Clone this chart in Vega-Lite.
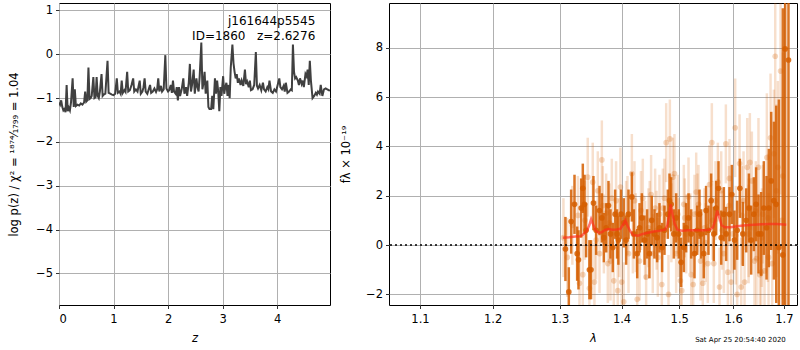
{
"$schema": "https://vega.github.io/schema/vega-lite/v6.json",
"padding": {"left": 8, "top": 2, "right": 0, "bottom": 0},
"autosize": {"type": "pad"},
"spacing": 9,
"config": {
  "font": "DejaVu Sans",
  "view": {"stroke": "#000", "strokeWidth": 1},
  "axis": {"grid": true, "gridColor": "#b0b0b0", "gridWidth": 1, "domain": false, "tickColor": "#000", "tickSize": 3.5, "tickWidth": 0.8, "labelColor": "#000", "labelFontSize": 11.5, "labelPadding": 3, "titleColor": "#000", "titleFontSize": 11.5, "titleFontWeight": "normal", "labelFont": "DejaVu Sans", "titleFont": "DejaVu Sans"},
  "axisX": {"labelPadding": 5}
},
"datasets": {
"pz": [
{"z":0.00,"p":-1.10},{"z":0.02,"p":-1.15},{"z":0.04,"p":-1.05},{"z":0.06,"p":-1.20},{"z":0.08,"p":-1.28},{"z":0.10,"p":-1.25},{"z":0.12,"p":-1.32},{"z":0.14,"p":-0.70},{"z":0.16,"p":-1.30},{"z":0.18,"p":-1.22},{"z":0.20,"p":-1.28},{"z":0.22,"p":-1.10},{"z":0.25,"p":-0.55},{"z":0.27,"p":-1.20},{"z":0.29,"p":-0.80},{"z":0.31,"p":-1.18},{"z":0.34,"p":-1.15},{"z":0.37,"p":-1.17},{"z":0.40,"p":-1.12},{"z":0.43,"p":-1.15},{"z":0.46,"p":-1.10},{"z":0.48,"p":-0.85},{"z":0.50,"p":-1.08},{"z":0.52,"p":-1.05},{"z":0.54,"p":-0.30},{"z":0.56,"p":-1.02},{"z":0.58,"p":-1.00},{"z":0.60,"p":-0.95},{"z":0.63,"p":-0.52},{"z":0.65,"p":-1.00},{"z":0.67,"p":-0.98},{"z":0.69,"p":-0.52},{"z":0.71,"p":-0.95},{"z":0.73,"p":-1.00},{"z":0.75,"p":-0.85},{"z":0.78,"p":-0.45},{"z":0.80,"p":-0.95},{"z":0.82,"p":-0.92},{"z":0.85,"p":-0.90},{"z":0.89,"p":-0.15},{"z":0.91,"p":-0.88},{"z":0.94,"p":-0.90},{"z":0.97,"p":-0.92},{"z":1.00,"p":-0.93},{"z":1.03,"p":-0.90},{"z":1.06,"p":-0.55},{"z":1.08,"p":-0.88},{"z":1.11,"p":-0.85},{"z":1.13,"p":-0.90},{"z":1.15,"p":-0.60},{"z":1.17,"p":-0.88},{"z":1.20,"p":-0.82},{"z":1.22,"p":-0.86},{"z":1.25,"p":-0.40},{"z":1.27,"p":-0.85},{"z":1.30,"p":-0.82},{"z":1.33,"p":-0.70},{"z":1.36,"p":-0.55},{"z":1.38,"p":-0.85},{"z":1.41,"p":-0.80},{"z":1.44,"p":-0.85},{"z":1.46,"p":-0.72},{"z":1.48,"p":-0.60},{"z":1.50,"p":-0.90},{"z":1.53,"p":-0.85},{"z":1.55,"p":-0.75},{"z":1.57,"p":-0.55},{"z":1.59,"p":-0.85},{"z":1.62,"p":-0.90},{"z":1.64,"p":-0.82},{"z":1.67,"p":-0.70},{"z":1.69,"p":-0.88},{"z":1.72,"p":-0.85},{"z":1.75,"p":-0.78},{"z":1.78,"p":-0.86},{"z":1.80,"p":-0.80},{"z":1.82,"p":-0.55},{"z":1.84,"p":-0.85},{"z":1.87,"p":-0.72},{"z":1.89,"p":-0.85},{"z":1.92,"p":-0.80},{"z":1.95,"p":-0.02},{"z":1.97,"p":-0.78},{"z":2.00,"p":-0.85},{"z":2.02,"p":-0.82},{"z":2.05,"p":-0.70},{"z":2.07,"p":-0.88},{"z":2.09,"p":-0.60},{"z":2.11,"p":-0.85},{"z":2.14,"p":-0.90},{"z":2.16,"p":-0.75},{"z":2.18,"p":-1.05},{"z":2.20,"p":-0.75},{"z":2.22,"p":-0.95},{"z":2.25,"p":-0.80},{"z":2.28,"p":-0.55},{"z":2.30,"p":-0.90},{"z":2.33,"p":-0.75},{"z":2.35,"p":-0.95},{"z":2.38,"p":-0.65},{"z":2.40,"p":-0.22},{"z":2.42,"p":-0.85},{"z":2.44,"p":-0.70},{"z":2.47,"p":-0.35},{"z":2.49,"p":-0.90},{"z":2.52,"p":-0.55},{"z":2.54,"p":-0.75},{"z":2.56,"p":-0.85},{"z":2.58,"p":-0.50},{"z":2.61,"p":0.27},{"z":2.63,"p":-0.80},{"z":2.65,"p":-0.65},{"z":2.67,"p":-0.40},{"z":2.69,"p":-0.90},{"z":2.72,"p":-0.60},{"z":2.74,"p":-1.20},{"z":2.76,"p":-1.25},{"z":2.79,"p":-1.25},{"z":2.81,"p":-0.95},{"z":2.83,"p":-1.25},{"z":2.86,"p":-0.55},{"z":2.88,"p":-0.90},{"z":2.90,"p":-0.60},{"z":2.92,"p":-0.85},{"z":2.94,"p":-1.30},{"z":2.96,"p":-0.75},{"z":2.98,"p":-0.95},{"z":3.01,"p":-0.50},{"z":3.03,"p":-0.90},{"z":3.05,"p":-0.75},{"z":3.07,"p":-0.65},{"z":3.09,"p":-0.95},{"z":3.11,"p":-0.70},{"z":3.13,"p":-1.00},{"z":3.15,"p":-0.30},{"z":3.18,"p":0.22},{"z":3.20,"p":-0.20},{"z":3.22,"p":-0.40},{"z":3.24,"p":-0.55},{"z":3.26,"p":-0.45},{"z":3.28,"p":-0.65},{"z":3.30,"p":-0.55},{"z":3.33,"p":-0.70},{"z":3.35,"p":-0.60},{"z":3.38,"p":-0.72},{"z":3.41,"p":-0.35},{"z":3.43,"p":-0.68},{"z":3.45,"p":-0.62},{"z":3.48,"p":-0.75},{"z":3.50,"p":-0.60},{"z":3.52,"p":-0.82},{"z":3.55,"p":-0.80},{"z":3.58,"p":-0.70},{"z":3.61,"p":0.05},{"z":3.63,"p":-0.72},{"z":3.65,"p":-0.78},{"z":3.68,"p":-0.70},{"z":3.71,"p":-0.82},{"z":3.74,"p":-0.65},{"z":3.76,"p":-0.80},{"z":3.79,"p":-0.85},{"z":3.82,"p":-0.75},{"z":3.84,"p":-0.80},{"z":3.86,"p":-0.60},{"z":3.89,"p":-0.85},{"z":3.92,"p":-0.88},{"z":3.95,"p":-0.80},{"z":3.98,"p":-0.85},{"z":4.01,"p":-0.70},{"z":4.04,"p":-0.55},{"z":4.06,"p":-0.75},{"z":4.09,"p":-0.80},{"z":4.12,"p":-0.72},{"z":4.14,"p":-0.85},{"z":4.16,"p":-0.65},{"z":4.19,"p":-0.88},{"z":4.22,"p":-0.85},{"z":4.25,"p":-0.80},{"z":4.27,"p":-0.82},{"z":4.29,"p":0.22},{"z":4.31,"p":-0.40},{"z":4.33,"p":-0.55},{"z":4.35,"p":-0.52},{"z":4.38,"p":-0.60},{"z":4.40,"p":-0.70},{"z":4.42,"p":-0.55},{"z":4.45,"p":-0.68},{"z":4.47,"p":-0.60},{"z":4.49,"p":-0.75},{"z":4.52,"p":-0.45},{"z":4.54,"p":-0.50},{"z":4.56,"p":-0.35},{"z":4.58,"p":-0.70},{"z":4.60,"p":-0.15},{"z":4.62,"p":-0.60},{"z":4.65,"p":-1.00},{"z":4.68,"p":-0.95},{"z":4.71,"p":-0.88},{"z":4.73,"p":-0.92},{"z":4.75,"p":-0.85},{"z":4.78,"p":-0.90},{"z":4.80,"p":-0.70},{"z":4.83,"p":-0.95},{"z":4.86,"p":-0.80},{"z":4.89,"p":-0.78},{"z":4.92,"p":-0.80},{"z":4.95,"p":-0.82},{"z":4.97,"p":-0.83}
],
"ann": [
{"z":4.70,"p":0.757,"t":"j161644p5545"},
{"z":4.70,"p":0.416,"t":"ID=1860\u00a0\u00a0\u00a0z=2.6276"}
],
"light": [
{"l":1.3060,"f":0.3,"lo":-1.3,"hi":1.9},{"l":1.3120,"f":-0.5,"lo":-2.1,"hi":1.1},{"l":1.3200,"f":0.8,"lo":-0.8,"hi":2.4},{"l":1.3287,"f":1.2,"lo":-0.4,"hi":2.8},{"l":1.3313,"f":-1.55,"lo":-3.15,"hi":0.05},{"l":1.3366,"f":-1.2,"lo":-2.8,"hi":0.4},{"l":1.3400,"f":1.0,"lo":-0.6,"hi":2.6},{"l":1.3445,"f":2.75,"lo":1.15,"hi":4.35},{"l":1.3472,"f":-1.75,"lo":-3.35,"hi":-0.15},{"l":1.3526,"f":2.55,"lo":0.95,"hi":4.15},{"l":1.3553,"f":-1.5,"lo":-3.1,"hi":0.1},{"l":1.3580,"f":0.2,"lo":-1.4,"hi":1.8},{"l":1.3608,"f":2.2,"lo":0.6,"hi":3.8},{"l":1.3636,"f":-0.35,"lo":-1.95,"hi":1.25},{"l":1.3674,"f":3.45,"lo":1.85,"hi":5.05},{"l":1.3690,"f":1.6,"lo":0.0,"hi":3.2},{"l":1.3707,"f":0.45,"lo":-1.15,"hi":2.05},{"l":1.3745,"f":1.3,"lo":-0.3,"hi":2.9},{"l":1.3772,"f":-0.75,"lo":-2.35,"hi":0.85},{"l":1.3800,"f":0.9,"lo":-0.7,"hi":2.5},{"l":1.3816,"f":-0.65,"lo":-2.25,"hi":0.95},{"l":1.3838,"f":1.9,"lo":0.3,"hi":3.5},{"l":1.3871,"f":-1.45,"lo":-3.05,"hi":0.15},{"l":1.3909,"f":1.8,"lo":0.2,"hi":3.4},{"l":1.3937,"f":-1.85,"lo":-3.45,"hi":-0.25},{"l":1.3960,"f":0.3,"lo":-1.3,"hi":1.9},{"l":1.3981,"f":2.35,"lo":0.75,"hi":3.95},{"l":1.4003,"f":-1.5,"lo":-3.1,"hi":0.1},{"l":1.4037,"f":-2.3,"lo":-3.9,"hi":-0.7},{"l":1.4077,"f":1.0,"lo":-0.6,"hi":2.6},{"l":1.4100,"f":1.2,"lo":-0.4,"hi":2.8},{"l":1.4117,"f":-0.35,"lo":-1.95,"hi":1.25},{"l":1.4174,"f":2.9,"lo":1.3,"hi":4.5},{"l":1.4191,"f":0.45,"lo":-1.15,"hi":2.05},{"l":1.4219,"f":1.8,"lo":0.2,"hi":3.4},{"l":1.4240,"f":0.5,"lo":-1.1,"hi":2.1},{"l":1.4265,"f":-2.2,"lo":-3.8,"hi":-0.6},{"l":1.4305,"f":-0.65,"lo":-2.25,"hi":0.95},{"l":1.4330,"f":1.4,"lo":-0.2,"hi":3.0},{"l":1.4361,"f":1.9,"lo":0.3,"hi":3.5},{"l":1.4400,"f":0.2,"lo":-1.4,"hi":1.8},{"l":1.4418,"f":-1.3,"lo":-2.9,"hi":0.3},{"l":1.4458,"f":0.7,"lo":-0.9,"hi":2.3},{"l":1.4480,"f":1.0,"lo":-0.6,"hi":2.6},{"l":1.4504,"f":2.05,"lo":0.45,"hi":3.65},{"l":1.4533,"f":-0.35,"lo":-1.95,"hi":1.25},{"l":1.4574,"f":1.5,"lo":-0.1,"hi":3.1},{"l":1.4600,"f":0.6,"lo":-1.0,"hi":2.2},{"l":1.4621,"f":-0.5,"lo":-2.1,"hi":1.1},{"l":1.4650,"f":1.25,"lo":-0.35,"hi":2.85},{"l":1.4691,"f":-1.6,"lo":-3.2,"hi":0.0},{"l":1.4710,"f":1.5,"lo":-0.1,"hi":3.1},{"l":1.4738,"f":1.9,"lo":0.3,"hi":3.5},{"l":1.4768,"f":4.15,"lo":2.55,"hi":5.75},{"l":1.4809,"f":-2.0,"lo":-3.6,"hi":-0.4},{"l":1.4833,"f":4.3,"lo":2.7,"hi":5.9},{"l":1.4860,"f":0.9,"lo":-0.7,"hi":2.5},{"l":1.4886,"f":2.75,"lo":1.15,"hi":4.35},{"l":1.4915,"f":2.9,"lo":1.3,"hi":4.5},{"l":1.4945,"f":-0.35,"lo":-1.95,"hi":1.25},{"l":1.4974,"f":1.25,"lo":-0.35,"hi":2.85},{"l":1.4990,"f":0.3,"lo":-1.3,"hi":1.9},{"l":1.5022,"f":-1.45,"lo":-3.05,"hi":0.15},{"l":1.5046,"f":-1.85,"lo":-3.45,"hi":-0.25},{"l":1.5083,"f":1.65,"lo":0.05,"hi":3.25},{"l":1.5100,"f":1.1,"lo":-0.5,"hi":2.7},{"l":1.5125,"f":0.45,"lo":-1.15,"hi":2.05},{"l":1.5168,"f":1.95,"lo":0.35,"hi":3.55},{"l":1.5200,"f":0.5,"lo":-1.1,"hi":2.1},{"l":1.5217,"f":-1.2,"lo":-2.8,"hi":0.4},{"l":1.5253,"f":-1.6,"lo":-3.2,"hi":0.0},{"l":1.5277,"f":1.25,"lo":-0.35,"hi":2.85},{"l":1.5308,"f":2.15,"lo":0.55,"hi":3.75},{"l":1.5330,"f":1.3,"lo":-0.3,"hi":2.9},{"l":1.5350,"f":1.65,"lo":0.05,"hi":3.25},{"l":1.5387,"f":-0.65,"lo":-2.25,"hi":0.95},{"l":1.5429,"f":-1.55,"lo":-3.15,"hi":0.05},{"l":1.5460,"f":0.7,"lo":-0.9,"hi":2.3},{"l":1.5480,"f":0.1,"lo":-1.5,"hi":1.7},{"l":1.5522,"f":-0.75,"lo":-2.35,"hi":0.85},{"l":1.5553,"f":2.45,"lo":0.85,"hi":4.05},{"l":1.5597,"f":4.15,"lo":2.55,"hi":5.75},{"l":1.5610,"f":1.0,"lo":-0.6,"hi":2.6},{"l":1.5634,"f":-0.75,"lo":-2.35,"hi":0.85},{"l":1.5666,"f":1.8,"lo":0.2,"hi":3.4},{"l":1.5710,"f":2.55,"lo":0.95,"hi":4.15},{"l":1.5741,"f":-1.7,"lo":-3.3,"hi":-0.1},{"l":1.5773,"f":2.2,"lo":0.6,"hi":3.8},{"l":1.5790,"f":0.6,"lo":-1.0,"hi":2.2},{"l":1.5823,"f":-0.35,"lo":-1.95,"hi":1.25},{"l":1.5861,"f":4.1,"lo":2.5,"hi":5.7},{"l":1.5899,"f":-1.1,"lo":-2.7,"hi":0.5},{"l":1.5920,"f":1.6,"lo":0.0,"hi":3.2},{"l":1.5930,"f":2.7,"lo":1.1,"hi":4.3},{"l":1.5962,"f":-1.5,"lo":-3.1,"hi":0.1},{"l":1.5993,"f":0.45,"lo":-1.15,"hi":2.05},{"l":1.6039,"f":4.75,"lo":2.75,"hi":6.75},{"l":1.6050,"f":0.4,"lo":-1.6,"hi":2.4},{"l":1.6077,"f":-2.0,"lo":-4.0,"hi":0.0},{"l":1.6123,"f":3.3,"lo":1.3,"hi":5.3},{"l":1.6155,"f":-1.7,"lo":-3.7,"hi":0.3},{"l":1.6170,"f":1.2,"lo":-0.8,"hi":3.2},{"l":1.6200,"f":1.8,"lo":-0.2,"hi":3.8},{"l":1.6220,"f":-1.5,"lo":-3.5,"hi":0.5},{"l":1.6272,"f":3.15,"lo":1.15,"hi":5.15},{"l":1.6298,"f":0.45,"lo":-1.55,"hi":2.45},{"l":1.6300,"f":0.7,"lo":-1.3,"hi":2.7},{"l":1.6323,"f":3.35,"lo":1.35,"hi":5.35},{"l":1.6362,"f":2.6,"lo":0.6,"hi":4.6},{"l":1.6414,"f":-0.65,"lo":-2.65,"hi":1.35},{"l":1.6440,"f":1.4,"lo":-0.6,"hi":3.4},{"l":1.6453,"f":-0.55,"lo":-2.55,"hi":1.45},{"l":1.6492,"f":3.15,"lo":1.15,"hi":5.15},{"l":1.6518,"f":-1.2,"lo":-3.2,"hi":0.8},{"l":1.6545,"f":-1.1,"lo":-3.1,"hi":0.9},{"l":1.6560,"f":0.3,"lo":-1.7,"hi":2.3},{"l":1.6578,"f":1.25,"lo":-0.75,"hi":3.25},{"l":1.6612,"f":-1.05,"lo":-3.65,"hi":1.55},{"l":1.6658,"f":3.55,"lo":0.95,"hi":6.15},{"l":1.6680,"f":1.1,"lo":-1.5,"hi":3.7},{"l":1.6692,"f":-0.5,"lo":-3.1,"hi":2.1},{"l":1.6732,"f":4.35,"lo":1.75,"hi":6.95},{"l":1.6765,"f":-0.75,"lo":-3.35,"hi":1.85},{"l":1.6799,"f":3.7,"lo":1.1,"hi":6.3},{"l":1.6826,"f":7.65,"lo":4.15,"hi":11.15},{"l":1.6850,"f":2.2,"lo":-1.3,"hi":5.7},{"l":1.6879,"f":3.15,"lo":-0.35,"hi":6.65},{"l":1.6933,"f":7.05,"lo":2.05,"hi":12.05},{"l":1.6960,"f":1.0,"lo":-4.0,"hi":6.0},{"l":1.6980,"f":2.8,"lo":-2.2,"hi":7.8}
],
"dark": [
{"l":1.3091,"f":-0.16,"lo":-1.46,"hi":1.14},{"l":1.3144,"f":-1.9,"lo":-2.9,"hi":-0.9},{"l":1.3181,"f":0.95,"lo":-0.35,"hi":2.25},{"l":1.3234,"f":1.65,"lo":0.45,"hi":2.85},{"l":1.3276,"f":-0.35,"lo":-1.45,"hi":0.75},{"l":1.3297,"f":-0.6,"lo":-1.8,"hi":0.6},{"l":1.3340,"f":1.5,"lo":0.3,"hi":2.7},{"l":1.3366,"f":2.3,"lo":1.3,"hi":3.3},{"l":1.3393,"f":1.65,"lo":0.45,"hi":2.85},{"l":1.3419,"f":0.6,"lo":-0.5,"hi":1.7},{"l":1.3472,"f":-1.0,"lo":-2.2,"hi":0.2},{"l":1.3498,"f":-1.0,"lo":-2.2,"hi":0.2},{"l":1.3537,"f":1.7,"lo":0.6,"hi":2.8},{"l":1.3581,"f":0.6,"lo":-0.4,"hi":1.6},{"l":1.3636,"f":1.4,"lo":0.4,"hi":2.4},{"l":1.3674,"f":1.1,"lo":0.1,"hi":2.1},{"l":1.3707,"f":0.3,"lo":-0.7,"hi":1.3},{"l":1.3745,"f":0.7,"lo":-0.3,"hi":1.7},{"l":1.3783,"f":1.6,"lo":0.6,"hi":2.6},{"l":1.3816,"f":0.45,"lo":-0.55,"hi":1.45},{"l":1.3854,"f":-0.1,"lo":-1.1,"hi":0.9},{"l":1.3893,"f":1.25,"lo":0.25,"hi":2.25},{"l":1.3925,"f":0.45,"lo":-0.55,"hi":1.45},{"l":1.3947,"f":0.2,"lo":-0.8,"hi":1.2},{"l":1.3992,"f":1.25,"lo":0.25,"hi":2.25},{"l":1.4037,"f":0.9,"lo":-0.1,"hi":1.9},{"l":1.4077,"f":0.2,"lo":-0.8,"hi":1.2},{"l":1.4117,"f":1.25,"lo":0.25,"hi":2.25},{"l":1.4174,"f":1.95,"lo":0.95,"hi":2.95},{"l":1.4208,"f":0.45,"lo":-0.55,"hi":1.45},{"l":1.4265,"f":-0.35,"lo":-1.35,"hi":0.65},{"l":1.4305,"f":0.7,"lo":-0.3,"hi":1.7},{"l":1.4344,"f":1.1,"lo":0.1,"hi":2.1},{"l":1.4390,"f":0.2,"lo":-0.8,"hi":1.2},{"l":1.4435,"f":0.45,"lo":-0.55,"hi":1.45},{"l":1.4475,"f":-0.35,"lo":-1.35,"hi":0.65},{"l":1.4515,"f":1.0,"lo":0.0,"hi":2.0},{"l":1.4562,"f":0.45,"lo":-0.55,"hi":1.45},{"l":1.4609,"f":0.3,"lo":-0.7,"hi":1.3},{"l":1.4650,"f":0.7,"lo":-0.3,"hi":1.7},{"l":1.4697,"f":-0.1,"lo":-1.1,"hi":0.9},{"l":1.4738,"f":0.6,"lo":-0.4,"hi":1.6},{"l":1.4797,"f":1.25,"lo":0.25,"hi":2.25},{"l":1.4827,"f":1.8,"lo":0.7,"hi":2.9},{"l":1.4856,"f":1.65,"lo":0.55,"hi":2.75},{"l":1.4903,"f":0.45,"lo":-0.55,"hi":1.45},{"l":1.4945,"f":1.1,"lo":0.1,"hi":2.1},{"l":1.4992,"f":0.45,"lo":-0.55,"hi":1.45},{"l":1.5034,"f":-0.7,"lo":-1.7,"hi":0.3},{"l":1.5083,"f":-0.1,"lo":-1.1,"hi":0.9},{"l":1.5125,"f":0.7,"lo":-0.3,"hi":1.7},{"l":1.5168,"f":1.1,"lo":0.1,"hi":2.1},{"l":1.5217,"f":0.45,"lo":-0.55,"hi":1.45},{"l":1.5277,"f":-0.35,"lo":-1.35,"hi":0.65},{"l":1.5326,"f":0.6,"lo":-0.4,"hi":1.6},{"l":1.5368,"f":1.25,"lo":0.25,"hi":2.25},{"l":1.5399,"f":0.45,"lo":-0.55,"hi":1.45},{"l":1.5447,"f":-0.35,"lo":-1.35,"hi":0.65},{"l":1.5490,"f":1.4,"lo":0.4,"hi":2.4},{"l":1.5534,"f":0.6,"lo":-0.4,"hi":1.6},{"l":1.5584,"f":1.8,"lo":0.7,"hi":2.9},{"l":1.5634,"f":0.45,"lo":-0.65,"hi":1.55},{"l":1.5678,"f":1.5,"lo":0.4,"hi":2.6},{"l":1.5722,"f":2.3,"lo":1.2,"hi":3.4},{"l":1.5773,"f":0.3,"lo":-0.8,"hi":1.4},{"l":1.5823,"f":1.25,"lo":0.15,"hi":2.35},{"l":1.5867,"f":0.45,"lo":-0.65,"hi":1.55},{"l":1.5930,"f":1.25,"lo":0.15,"hi":2.35},{"l":1.5974,"f":2.05,"lo":0.85,"hi":3.25},{"l":1.6025,"f":0.2,"lo":-1.0,"hi":1.4},{"l":1.6077,"f":0.6,"lo":-0.6,"hi":1.8},{"l":1.6129,"f":2.3,"lo":1.1,"hi":3.5},{"l":1.6187,"f":0.45,"lo":-0.85,"hi":1.75},{"l":1.6252,"f":1.0,"lo":-0.3,"hi":2.3},{"l":1.6304,"f":1.5,"lo":0.1,"hi":2.9},{"l":1.6349,"f":0.2,"lo":-1.2,"hi":1.6},{"l":1.6401,"f":1.25,"lo":-0.25,"hi":2.75},{"l":1.6446,"f":1.65,"lo":0.15,"hi":3.15},{"l":1.6492,"f":0.45,"lo":-1.15,"hi":2.05},{"l":1.6545,"f":0.45,"lo":-1.25,"hi":2.15},{"l":1.6598,"f":1.5,"lo":-0.4,"hi":3.4},{"l":1.6652,"f":0.7,"lo":-1.4,"hi":2.8},{"l":1.6698,"f":1.5,"lo":-0.9,"hi":3.9},{"l":1.6745,"f":2.6,"lo":-0.2,"hi":5.4},{"l":1.6799,"f":1.8,"lo":-1.4,"hi":5.0},{"l":1.6846,"f":1.65,"lo":-2.35,"hi":5.65},{"l":1.6899,"f":-0.1,"lo":-6.1,"hi":5.9},{"l":1.6980,"f":-0.4,"lo":-10.4,"hi":9.6},{"l":1.7027,"f":7.95,"lo":-4.05,"hi":19.95},{"l":1.7095,"f":7.5,"lo":-6.5,"hi":21.5}
],
"model": [
{"l":1.305,"f":0.30},{"l":1.315,"f":0.32},{"l":1.325,"f":0.35},{"l":1.333,"f":0.36},{"l":1.338,"f":0.45},{"l":1.343,"f":0.58},{"l":1.347,"f":0.80},{"l":1.350,"f":1.05},{"l":1.353,"f":0.85},{"l":1.357,"f":0.60},{"l":1.362,"f":0.50},{"l":1.367,"f":0.52},{"l":1.372,"f":0.60},{"l":1.378,"f":0.65},{"l":1.385,"f":0.62},{"l":1.392,"f":0.63},{"l":1.398,"f":0.66},{"l":1.402,"f":0.80},{"l":1.4065,"f":1.00},{"l":1.410,"f":0.78},{"l":1.415,"f":0.55},{"l":1.420,"f":0.40},{"l":1.428,"f":0.38},{"l":1.436,"f":0.45},{"l":1.445,"f":0.50},{"l":1.455,"f":0.55},{"l":1.465,"f":0.58},{"l":1.475,"f":0.62},{"l":1.479,"f":0.80},{"l":1.482,"f":1.20},{"l":1.4845,"f":1.65},{"l":1.488,"f":1.25},{"l":1.492,"f":0.85},{"l":1.497,"f":0.62},{"l":1.505,"f":0.58},{"l":1.515,"f":0.60},{"l":1.525,"f":0.60},{"l":1.535,"f":0.60},{"l":1.545,"f":0.60},{"l":1.555,"f":0.62},{"l":1.562,"f":0.72},{"l":1.566,"f":1.00},{"l":1.5696,"f":1.40},{"l":1.574,"f":1.10},{"l":1.578,"f":0.80},{"l":1.584,"f":0.72},{"l":1.595,"f":0.72},{"l":1.605,"f":0.75},{"l":1.615,"f":0.78},{"l":1.625,"f":0.80},{"l":1.640,"f":0.82},{"l":1.655,"f":0.84},{"l":1.670,"f":0.85},{"l":1.685,"f":0.85},{"l":1.700,"f":0.83},{"l":1.705,"f":0.82}
],
"zero": [{"f":0}],
"stamp": [{"l":1.704,"f":-3.84,"t":"Sat Apr 25 20:54:40 2020"}]
},
"hconcat": [
{
  "width": 271, "height": 302,
  "layer": [
    {"data": {"name": "pz"}, "mark": {"type": "line", "color": "#404040", "strokeWidth": 2, "clip": true},
     "encoding": {
       "x": {"field": "z", "type": "quantitative", "scale": {"domain": [0, 4.97], "nice": false, "zero": false}, "axis": {"values": [0,1,2,3,4], "format": "d", "title": "z", "titleFontStyle": "italic", "titlePadding": 7}},
       "y": {"field": "p", "type": "quantitative", "scale": {"domain": [-5.72, 1.17], "nice": false, "zero": false}, "axis": {"values": [-5,-4,-3,-2,-1,0,1], "format": "d", "title": "log p(z) / χ² = ¹⁸⁷⁴⁄₁₇₉₉ = 1.04", "titlePadding": 16}}
     }},
    {"data": {"name": "ann"}, "mark": {"type": "text", "align": "right", "baseline": "middle", "fontSize": 12, "color": "#000"},
     "encoding": {"x": {"field": "z", "type": "quantitative"}, "y": {"field": "p", "type": "quantitative"}, "text": {"field": "t"}}}
  ]
},
{
  "width": 408, "height": 302,
  "layer": [
    {"data": {"name": "light"}, "mark": {"type": "rule", "color": "#D55E00", "opacity": 0.2, "strokeWidth": 2.5, "clip": true},
     "encoding": {
       "x": {"field": "l", "type": "quantitative", "scale": {"type": "log", "domain": [1.06, 1.727], "nice": false}, "axis": {"values": [1.1,1.2,1.3,1.4,1.5,1.6,1.7], "format": ".1f", "title": "λ", "titleFontStyle": "italic", "titlePadding": 7}},
       "y": {"field": "lo", "type": "quantitative", "scale": {"domain": [-2.43, 9.81], "nice": false, "zero": false}, "axis": {"values": [-2,0,2,4,6,8], "format": "d", "title": "fλ × 10⁻¹⁹", "titlePadding": 14}},
       "y2": {"field": "hi"}
     }},
    {"data": {"name": "light"}, "mark": {"type": "circle", "color": "#D55E00", "opacity": 0.25, "size": 32, "clip": true},
     "encoding": {"x": {"field": "l", "type": "quantitative"}, "y": {"field": "f", "type": "quantitative"}}},
    {"data": {"name": "dark"}, "mark": {"type": "rule", "color": "#D55E00", "opacity": 0.85, "strokeWidth": 2.5, "clip": true},
     "encoding": {"x": {"field": "l", "type": "quantitative"}, "y": {"field": "lo", "type": "quantitative"}, "y2": {"field": "hi"}}},
    {"data": {"name": "dark"}, "mark": {"type": "circle", "color": "#D55E00", "opacity": 0.85, "size": 32, "clip": true},
     "encoding": {"x": {"field": "l", "type": "quantitative"}, "y": {"field": "f", "type": "quantitative"}}},
    {"data": {"name": "zero"}, "mark": {"type": "rule", "color": "#000", "strokeDash": [2, 3], "strokeWidth": 1.5},
     "encoding": {"y": {"field": "f", "type": "quantitative"}}},
    {"data": {"name": "model"}, "mark": {"type": "line", "color": "#ff2a1a", "opacity": 0.65, "strokeWidth": 2.5, "clip": true},
     "encoding": {"x": {"field": "l", "type": "quantitative"}, "y": {"field": "f", "type": "quantitative"}}},
    {"data": {"name": "stamp"}, "mark": {"type": "text", "align": "right", "baseline": "middle", "fontSize": 7, "color": "#000"},
     "encoding": {"x": {"field": "l", "type": "quantitative"}, "y": {"field": "f", "type": "quantitative"}, "text": {"field": "t"}}}
  ]
}
]
}
